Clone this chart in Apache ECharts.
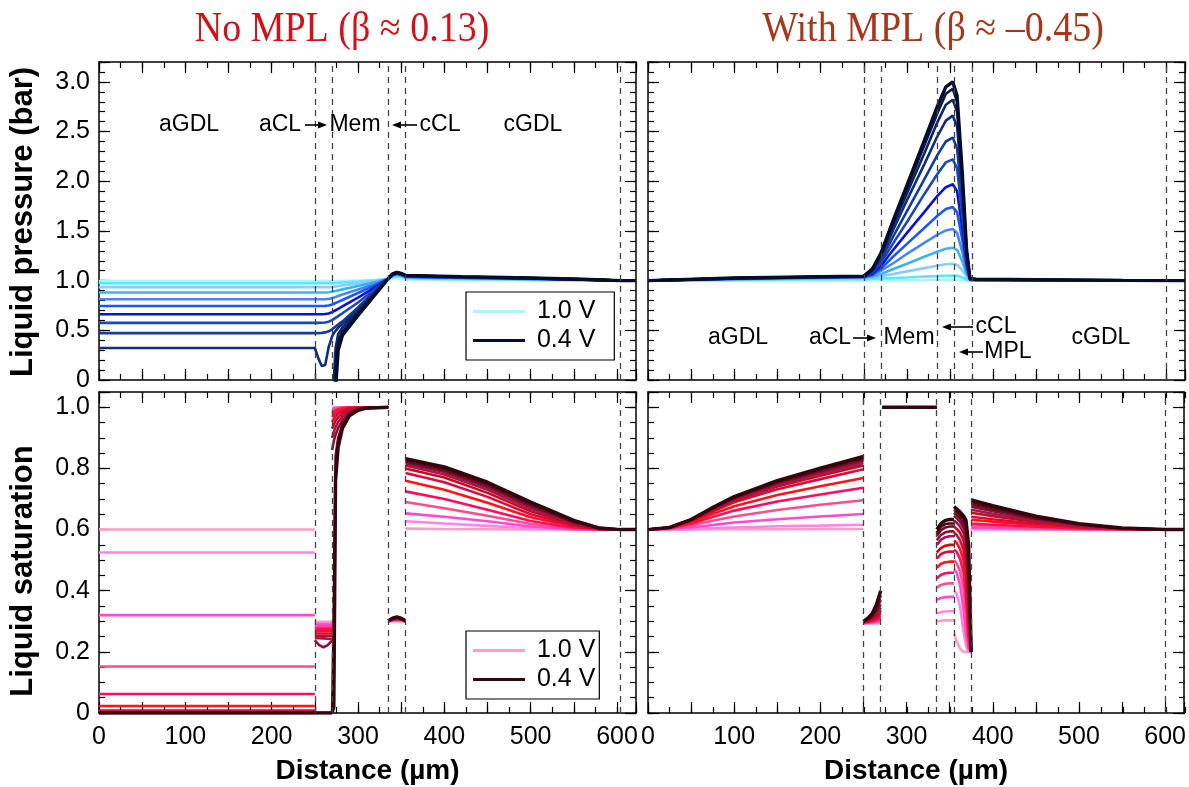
<!DOCTYPE html>
<html><head><meta charset="utf-8">
<script src="https://cdn.jsdelivr.net/npm/echarts@6/dist/echarts.min.js"></script>
<style>html,body{margin:0;padding:0;background:#fff}#c{width:1189px;height:787px}</style>
</head><body><div id="c"></div>
<script>
// ---------- DATA ----------
const voltLabels = ['1.0 V','0.95 V','0.9 V','0.85 V','0.8 V','0.75 V','0.7 V','0.65 V','0.6 V','0.55 V','0.5 V','0.45 V','0.4 V'];
const pressureColors = ['#a8f6ff','#5ce6ff','#8ccdfb','#3cb2f0','#4a86f2','#1a58ff','#0a12d6','#1a48b6','#143c98','#0f2f7c','#0c2462','#0a1a4a','#050c2c'];
const saturationColors = ['#ff9cc2','#ff84e4','#ff48d4','#ff4c8a','#ff0c62','#ff1414','#d80a48','#c41010','#a8145a','#901034','#6c0c22','#4e0814','#36040c'];

const layersNoMPL = [250, 270, 335, 355, 604];
const layersMPL = [250, 270, 335, 355, 375, 600];
const xTickLabels = [0, 100, 200, 300, 400, 500, 600];

// Liquid pressure, no MPL (bar)
const xPressNoMPL = [0,250,254,258,262,266,270,272,274,277,282,300,320,335,340,345,350,355,420,500,560,604,622];
const pressNoMPL = [
 [0.995,0.995,0.995,0.995,0.995,0.995,0.995,0.995,0.995,0.995,0.996,1.0,1.005,1.01,1.02,1.025,1.02,1.012,1.006,1.003,1.001,1.0,1.0],
 [0.973,0.973,0.973,0.973,0.973,0.973,0.974,0.975,0.976,0.978,0.981,0.99,1.003,1.015,1.035,1.045,1.038,1.025,1.015,1.01,1.005,1.0,1.0],
 [0.933,0.933,0.933,0.933,0.933,0.934,0.937,0.939,0.942,0.946,0.952,0.972,0.996,1.017,1.045,1.055,1.047,1.03,1.02,1.012,1.006,1.0,1.0],
 [0.88,0.88,0.88,0.88,0.881,0.883,0.888,0.892,0.896,0.902,0.912,0.945,0.985,1.018,1.05,1.06,1.052,1.035,1.025,1.015,1.008,1.0,1.0],
 [0.812,0.812,0.812,0.812,0.813,0.816,0.824,0.83,0.836,0.845,0.86,0.91,0.97,1.019,1.052,1.065,1.056,1.038,1.028,1.018,1.009,1.0,1.0],
 [0.744,0.744,0.744,0.744,0.746,0.75,0.76,0.767,0.775,0.786,0.805,0.875,0.955,1.02,1.055,1.07,1.06,1.04,1.03,1.02,1.01,1.0,1.0],
 [0.661,0.661,0.661,0.662,0.664,0.67,0.683,0.692,0.702,0.716,0.74,0.83,0.935,1.02,1.058,1.072,1.062,1.042,1.032,1.021,1.011,1.0,1.0],
 [0.575,0.575,0.575,0.576,0.579,0.587,0.603,0.614,0.626,0.643,0.672,0.78,0.915,1.02,1.06,1.075,1.065,1.045,1.034,1.022,1.012,1.0,1.0],
 [0.472,0.472,0.472,0.474,0.479,0.49,0.51,0.523,0.537,0.557,0.59,0.73,0.9,1.02,1.062,1.077,1.067,1.047,1.035,1.023,1.012,1.0,1.0],
 [0.322,0.322,0.22,0.14,0.15,0.33,0.44,0.47,0.495,0.525,0.565,0.705,0.885,1.02,1.065,1.08,1.07,1.05,1.037,1.024,1.013,1.0,1.0],
 [-0.3,-0.3,-0.3,-0.3,-0.3,-0.3,-0.3,0.0,0.32,0.46,0.53,0.69,0.88,1.02,1.066,1.081,1.071,1.051,1.038,1.025,1.013,1.0,1.0],
 [-0.5,-0.5,-0.5,-0.5,-0.5,-0.5,-0.5,-0.3,0.12,0.39,0.49,0.67,0.87,1.02,1.067,1.082,1.072,1.052,1.039,1.025,1.013,1.0,1.0],
 [-0.7,-0.7,-0.7,-0.7,-0.7,-0.7,-0.7,-0.6,-0.1,0.3,0.45,0.65,0.86,1.02,1.068,1.083,1.073,1.053,1.04,1.026,1.014,1.0,1.0]
];

// Liquid pressure, with MPL (bar)
const xPressMPL = [0,100,200,250,260,270,285,300,320,335,345,353,358,364,369,373,380,450,550,622];
const pressMPL = [
 [1.0,1.0,1.0,1.0,1.0,1.001,1.003,1.004,1.006,1.008,1.01,1.01,1.009,1.006,1.002,1.0,1.0,1.0,1.0,1.0],
 [1.0,1.008,1.014,1.017,1.019,1.022,1.027,1.032,1.04,1.045,1.049,1.05,1.048,1.033,1.012,1.0,1.0,1.0,1.0,1.0],
 [1.0,1.012,1.022,1.027,1.033,1.045,1.068,1.093,1.126,1.15,1.164,1.17,1.16,1.105,1.042,1.005,1.002,1.001,1.0,1.0],
 [1.0,1.015,1.026,1.031,1.04,1.066,1.12,1.17,1.24,1.29,1.32,1.33,1.31,1.195,1.07,1.006,1.004,1.002,1.0,1.0],
 [1.0,1.018,1.03,1.035,1.052,1.1,1.18,1.27,1.38,1.46,1.505,1.52,1.48,1.29,1.1,1.008,1.006,1.003,1.0,1.0],
 [1.0,1.02,1.032,1.037,1.06,1.12,1.25,1.37,1.53,1.65,1.72,1.74,1.69,1.41,1.14,1.01,1.007,1.004,1.001,1.0],
 [1.0,1.021,1.034,1.039,1.07,1.15,1.32,1.48,1.69,1.85,1.94,1.97,1.9,1.53,1.17,1.012,1.008,1.005,1.001,1.0],
 [1.0,1.022,1.035,1.04,1.08,1.18,1.39,1.59,1.87,2.07,2.19,2.22,2.13,1.67,1.21,1.015,1.01,1.006,1.002,1.0],
 [1.0,1.023,1.036,1.041,1.09,1.21,1.46,1.7,2.02,2.26,2.4,2.44,2.33,1.79,1.24,1.017,1.011,1.007,1.002,1.0],
 [1.0,1.024,1.037,1.042,1.1,1.24,1.53,1.81,2.17,2.45,2.61,2.66,2.55,1.92,1.27,1.018,1.012,1.008,1.002,1.0],
 [1.0,1.025,1.038,1.043,1.11,1.26,1.58,1.88,2.28,2.59,2.77,2.82,2.7,2.0,1.29,1.019,1.013,1.008,1.003,1.0],
 [1.0,1.026,1.039,1.044,1.11,1.27,1.61,1.93,2.36,2.68,2.88,2.93,2.8,2.06,1.3,1.02,1.014,1.009,1.003,1.0],
 [1.0,1.027,1.04,1.045,1.12,1.28,1.63,1.96,2.41,2.75,2.95,3.0,2.86,2.09,1.31,1.02,1.015,1.01,1.003,1.0]
];

// Liquid saturation, no MPL — per layer
const xSatNoMPL_aGDL = [0, 250];
const satNoMPL_aGDL = [0.6,0.525,0.32,0.152,0.062,0.023,0.008,0.003,0,0,0,0,0];
const xSatNoMPL_aCL = [250,255,260,265,270];
const satNoMPL_aCL = [
 [0.298,0.298,0.298,0.298,0.298],[0.294,0.294,0.294,0.294,0.294],[0.289,0.289,0.289,0.289,0.289],
 [0.283,0.283,0.283,0.283,0.283],[0.276,0.276,0.276,0.276,0.276],[0.268,0.268,0.268,0.268,0.268],
 [0.26,0.26,0.26,0.26,0.26],[0.252,0.252,0.252,0.252,0.252],[0.245,0.245,0.244,0.243,0.243],
 [0.238,0.222,0.215,0.222,0.238],[0,0,0,0,0],[0,0,0,0,0],[0,0,0,0,0]
];
const xSatNoMPL_Mem = [270,272,274,277,282,290,300,310,335];
const satNoMPL_Mem = [
 [1.0,1.0,1.0,1.0,1.0,1.0,1.0,1.0,1.0],
 [0.997,0.998,0.999,1.0,1.0,1.0,1.0,1.0,1.0],
 [0.993,0.995,0.997,0.999,1.0,1.0,1.0,1.0,1.0],
 [0.988,0.991,0.994,0.997,0.999,1.0,1.0,1.0,1.0],
 [0.98,0.985,0.989,0.993,0.997,1.0,1.0,1.0,1.0],
 [0.968,0.975,0.981,0.987,0.993,0.998,1.0,1.0,1.0],
 [0.952,0.962,0.97,0.979,0.988,0.996,0.999,1.0,1.0],
 [0.93,0.944,0.955,0.967,0.98,0.992,0.998,1.0,1.0],
 [0.9,0.92,0.935,0.952,0.97,0.988,0.997,0.999,1.0],
 [0.86,0.89,0.91,0.932,0.958,0.982,0.995,0.999,1.0],
 [0.0,0.35,0.84,0.9,0.945,0.978,0.993,0.998,1.0],
 [0.0,0.12,0.8,0.885,0.94,0.975,0.992,0.998,1.0],
 [0.0,0.02,0.76,0.87,0.932,0.972,0.99,0.997,1.0]
];
const xSatNoMPL_cCL = [335,340,345,350,355];
const satNoMPL_cCL = [
 [0.298,0.3,0.301,0.3,0.298],[0.299,0.302,0.303,0.302,0.299],[0.3,0.303,0.305,0.303,0.3],
 [0.3,0.304,0.306,0.304,0.3],[0.3,0.305,0.307,0.305,0.3],[0.301,0.306,0.308,0.306,0.301],
 [0.301,0.307,0.309,0.307,0.301],[0.301,0.307,0.31,0.307,0.301],[0.302,0.308,0.311,0.308,0.302],
 [0.302,0.308,0.312,0.308,0.302],[0.302,0.309,0.313,0.309,0.302],[0.302,0.309,0.313,0.309,0.302],
 [0.302,0.31,0.314,0.31,0.302]
];
const xSatNoMPL_cGDL = [355,400,450,500,550,580,604,622];
const satNoMPL_cGDL = [
 [0.603,0.602,0.601,0.6,0.6,0.6,0.6,0.6],
 [0.627,0.62,0.612,0.604,0.6,0.6,0.6,0.6],
 [0.653,0.642,0.627,0.61,0.601,0.6,0.6,0.6],
 [0.69,0.67,0.645,0.618,0.603,0.6,0.6,0.6],
 [0.725,0.7,0.665,0.628,0.606,0.6,0.6,0.6],
 [0.76,0.73,0.688,0.64,0.61,0.601,0.6,0.6],
 [0.785,0.755,0.707,0.65,0.613,0.601,0.6,0.6],
 [0.8,0.77,0.72,0.66,0.617,0.602,0.6,0.6],
 [0.81,0.78,0.73,0.668,0.62,0.602,0.6,0.6],
 [0.817,0.788,0.738,0.675,0.622,0.603,0.6,0.6],
 [0.823,0.795,0.745,0.68,0.625,0.604,0.6,0.6],
 [0.828,0.8,0.75,0.685,0.627,0.604,0.6,0.6],
 [0.832,0.805,0.755,0.69,0.63,0.605,0.6,0.6]
];

// Liquid saturation, with MPL — per layer
const xSatMPL_aGDL = [0,25,50,75,100,150,200,250];
const satMPL_aGDL = [
 [0.6,0.6,0.6,0.601,0.601,0.601,0.602,0.602],
 [0.6,0.6,0.602,0.605,0.607,0.611,0.613,0.616],
 [0.6,0.602,0.607,0.615,0.623,0.634,0.643,0.651],
 [0.6,0.603,0.613,0.629,0.643,0.664,0.681,0.696],
 [0.6,0.604,0.619,0.641,0.662,0.692,0.715,0.737],
 [0.6,0.605,0.624,0.651,0.676,0.713,0.742,0.769],
 [0.6,0.606,0.628,0.659,0.689,0.732,0.765,0.797],
 [0.6,0.606,0.629,0.663,0.695,0.741,0.776,0.81],
 [0.6,0.607,0.631,0.665,0.698,0.746,0.783,0.818],
 [0.6,0.607,0.632,0.668,0.701,0.751,0.789,0.825],
 [0.6,0.607,0.632,0.669,0.704,0.754,0.793,0.83],
 [0.6,0.607,0.633,0.671,0.706,0.757,0.797,0.835],
 [0.6,0.607,0.633,0.672,0.708,0.76,0.801,0.839]
];
const xSatMPL_aCL = [250,255,260,265,270];
const satMPL_aCL = [
 [0.293,0.293,0.293,0.294,0.295],[0.294,0.294,0.295,0.296,0.298],[0.294,0.295,0.296,0.298,0.302],
 [0.295,0.296,0.298,0.301,0.306],[0.296,0.298,0.3,0.304,0.312],[0.297,0.299,0.302,0.308,0.318],
 [0.298,0.3,0.305,0.312,0.325],[0.298,0.302,0.307,0.316,0.335],[0.3,0.304,0.31,0.322,0.345],
 [0.3,0.305,0.313,0.33,0.355],[0.3,0.306,0.317,0.337,0.37],[0.3,0.308,0.32,0.345,0.385],
 [0.3,0.31,0.325,0.355,0.4]
];
const xSatMPL_Mem = [272, 335];
const satMPL_Mem = [1.0,1.0,1.0,1.0,1.0,1.0,1.0,1.0,1.0,1.0,1.0,1.0,1.0];
const xSatMPL_cCL = [335,340,345,350,355];
const satMPL_cCL = [
 [0.3,0.302,0.303,0.303,0.303],[0.325,0.33,0.332,0.333,0.333],[0.37,0.376,0.379,0.38,0.38],
 [0.41,0.419,0.423,0.424,0.424],[0.44,0.452,0.457,0.459,0.459],[0.475,0.488,0.493,0.495,0.495],
 [0.505,0.52,0.526,0.528,0.528],[0.525,0.54,0.547,0.55,0.55],[0.55,0.567,0.575,0.578,0.578],
 [0.565,0.583,0.591,0.594,0.594],[0.58,0.598,0.607,0.61,0.61],[0.59,0.61,0.618,0.62,0.62],
 [0.6,0.62,0.63,0.633,0.633]
];
const xSatMPL_MPL = [355,358,362,366,369,372,375];
const satMPL_MPL = [
 [0.26,0.235,0.21,0.2,0.2,0.2,0.2],
 [0.4,0.39,0.35,0.27,0.22,0.2,0.2],
 [0.47,0.46,0.42,0.34,0.26,0.21,0.2],
 [0.5,0.49,0.465,0.41,0.32,0.22,0.2],
 [0.535,0.527,0.505,0.46,0.38,0.24,0.2],
 [0.565,0.557,0.537,0.5,0.43,0.26,0.2],
 [0.59,0.583,0.565,0.535,0.48,0.29,0.2],
 [0.61,0.603,0.59,0.565,0.52,0.32,0.2],
 [0.63,0.623,0.61,0.59,0.555,0.36,0.2],
 [0.645,0.638,0.625,0.607,0.58,0.4,0.2],
 [0.655,0.648,0.638,0.62,0.6,0.45,0.2],
 [0.665,0.658,0.648,0.635,0.615,0.5,0.2],
 [0.675,0.668,0.658,0.645,0.63,0.55,0.2]
];
const xSatMPL_cGDL = [375,400,450,500,550,600,622];
const satMPL_cGDL = [
 [0.6,0.6,0.6,0.6,0.6,0.6,0.6],
 [0.602,0.602,0.601,0.6,0.6,0.6,0.6],
 [0.606,0.605,0.603,0.601,0.6,0.6,0.6],
 [0.612,0.61,0.605,0.602,0.6,0.6,0.6],
 [0.62,0.616,0.609,0.604,0.601,0.6,0.6],
 [0.632,0.626,0.614,0.606,0.602,0.6,0.6],
 [0.642,0.634,0.619,0.608,0.602,0.6,0.6],
 [0.655,0.644,0.625,0.611,0.603,0.6,0.6],
 [0.665,0.652,0.629,0.613,0.603,0.6,0.6],
 [0.675,0.66,0.634,0.615,0.604,0.6,0.6],
 [0.683,0.666,0.637,0.617,0.604,0.6,0.6],
 [0.69,0.672,0.64,0.618,0.604,0.6,0.6],
 [0.697,0.678,0.644,0.619,0.605,0.6,0.6]
];

// ---------- BUILD ----------
const SANS = '"Liberation Sans", Arial, sans-serif';
const rects = [
  {left:99, top:62, width:537, height:318},
  {left:648, top:62, width:537, height:318},
  {left:99, top:392, width:537, height:321},
  {left:648, top:392, width:537, height:321}
];
const grids = [];
const xAxes = [], yAxes = [];
for (let gi = 0; gi < 8; gi++) {
  const base = gi % 4, minor = gi >= 4, isTop = base < 2, isLeft = base % 2 === 0;
  grids.push(Object.assign({containLabel:false}, rects[base]));
  const tickLen = minor ? 6 : 11;
  const line = {show: !minor, onZero:false, lineStyle:{color:'#000', width:1.5}};
  const tick = {show:true, inside:true, length:tickLen, lineStyle:{color:'#000', width:1.2}};
  const showXLab = !minor && !isTop;
  const xBase = {gridIndex:gi, type:'value', min:0, max:622, interval: minor ? 25 : 50,
    axisLine: line, axisTick: tick, splitLine:{show:false}};
  xAxes.push(Object.assign({}, xBase, {position:'bottom',
    axisLabel:{show: showXLab, margin:12, fontSize:25, fontFamily:SANS, color:'#000',
      formatter: v => xTickLabels.indexOf(v) >= 0 ? String(v) : ''},
    name: showXLab ? 'Distance (µm)' : '', nameLocation:'middle', nameGap:44,
    nameTextStyle:{fontSize:28, fontWeight:'bold', fontFamily:SANS, color:'#000'}}));
  xAxes.push(Object.assign({}, xBase, {position:'top', axisLabel:{show:false}}));
  const ymax = isTop ? 3.2 : 1.05;
  const yint = isTop ? (minor ? 0.1 : 0.5) : (minor ? 0.05 : 0.2);
  const showYLab = !minor && isLeft;
  const yBase = {gridIndex:gi, type:'value', min:0, max:ymax, interval:yint,
    axisLine: line, axisTick: tick, splitLine:{show:false}};
  yAxes.push(Object.assign({}, yBase, {position:'left',
    axisLabel:{show: showYLab, margin:9, fontSize:25, fontFamily:SANS, color:'#000',
      formatter: v => {
        if (v > (isTop ? 3.0001 : 1.0001)) return '';
        return v === 0 ? '0' : v.toFixed(1);
      }}}));
  yAxes.push(Object.assign({}, yBase, {position:'right', axisLabel:{show:false}}));
}

function contData(xs, ys) { return xs.map((x, i) => [x, ys[i]]); }
function segData(segs) {
  const out = [];
  segs.forEach((s, k) => {
    if (k > 0) out.push([s[0][0], '-']);
    s[0].forEach((x, i) => out.push([x, s[1][i]]));
  });
  return out;
}
function dashMark(layers) {
  return {silent:true, symbol:['none','none'], label:{show:false}, animation:false,
    lineStyle:{type:[6,5], color:'#444', width:1.3}, emphasis:{disabled:true},
    data: layers.map(v => ({xAxis:v}))};
}
const series = [];
function addPanel(gi, prefix, colors, dataFn, layers) {
  for (let c = 0; c < 13; c++) {
    const s = {
      type:'line', name: prefix + voltLabels[c], xAxisIndex: gi*2, yAxisIndex: gi*2,
      data: dataFn(c), showSymbol:false, symbol:'none', connectNulls:false, clip:true,
      animation:false, silent:true, z: 3,
      lineStyle:{color: colors[c], width: c === 12 ? 3.4 : 2.6},
      itemStyle:{color: colors[c]}
    };
    if (c === 0) s.markLine = dashMark(layers);
    series.push(s);
  }
}
addPanel(0, 'P', pressureColors, c => contData(xPressNoMPL, pressNoMPL[c]), layersNoMPL);
addPanel(1, 'Q', pressureColors, c => contData(xPressMPL, pressMPL[c]), layersMPL);
addPanel(2, 'S', saturationColors, c => segData([
  [xSatNoMPL_aGDL, [satNoMPL_aGDL[c], satNoMPL_aGDL[c]]],
  [xSatNoMPL_aCL, satNoMPL_aCL[c]],
  [xSatNoMPL_Mem, satNoMPL_Mem[c]],
  [xSatNoMPL_cCL, satNoMPL_cCL[c]],
  [xSatNoMPL_cGDL, satNoMPL_cGDL[c]]
]), layersNoMPL);
addPanel(3, 'T', saturationColors, c => segData([
  [xSatMPL_aGDL, satMPL_aGDL[c]],
  [xSatMPL_aCL, satMPL_aCL[c]],
  [xSatMPL_Mem, [satMPL_Mem[c], satMPL_Mem[c]]],
  [xSatMPL_cCL, satMPL_cCL[c]],
  [xSatMPL_MPL, satMPL_MPL[c]],
  [xSatMPL_cGDL, satMPL_cGDL[c]]
]), layersMPL);

function legendCfg(names, top, padRight) {
  return {data: names, orient:'vertical', left:466, top: top, padding:[6, padRight, 6, 7],
    itemGap:2, itemWidth:52, itemHeight:3, icon:'rect', borderColor:'#000', borderWidth:1.2,
    selectedMode:false, backgroundColor:'#fff',
    textStyle:{fontSize:25, fontFamily:SANS, color:'#000', lineHeight:27},
    formatter: n => ' ' + n.slice(1)};
}

function txt(x, y, t, size) {
  return {type:'text', x:x, y:y, silent:true, z:50,
    style:{text:t, fill:'#000', font: size + 'px ' + SANS, align:'center', verticalAlign:'middle'}};
}
function vname(x, y, t) {
  return {type:'text', x:x, y:y, rotation: Math.PI/2, silent:true, z:50,
    style:{text:t, fill:'#000', font:'bold 31px ' + SANS, align:'center', verticalAlign:'middle'}};
}
function arrow(x1, x2, y) {
  const dir = x2 > x1 ? 1 : -1;
  return [
    {type:'line', silent:true, z:50, shape:{x1:x1, y1:y, x2:x2 - dir*6, y2:y}, style:{stroke:'#000', lineWidth:1.6}},
    {type:'polygon', silent:true, z:50, shape:{points:[[x2, y],[x2 - dir*9, y-3.5],[x2 - dir*9, y+3.5]]}, style:{fill:'#000'}}
  ];
}
const graphics = [
  {type:'text', x:342, y:30, silent:true, scaleY:1.1, style:{text:'No MPL (β ≈ 0.13)', fill:'#d0121b',
    font:'38px "Liberation Serif", "Times New Roman", serif', align:'center', verticalAlign:'middle'}},
  {type:'text', x:933, y:30, silent:true, scaleY:1.1, style:{text:'With MPL (β ≈ –0.45)', fill:'#a5381a',
    font:'38px "Liberation Serif", "Times New Roman", serif', align:'center', verticalAlign:'middle'}},
  vname(23, 222, 'Liquid pressure (bar)'),
  vname(23, 571, 'Liquid saturation'),
  txt(189, 125, 'aGDL', 23), txt(280, 125, 'aCL', 23), txt(355, 125, 'Mem', 23),
  txt(440, 125, 'cCL', 23), txt(533, 125, 'cGDL', 23),
  ...arrow(305, 327, 125), ...arrow(417, 392, 125),
  txt(738, 338, 'aGDL', 23), txt(830, 338, 'aCL', 23), txt(909, 338, 'Mem', 23),
  txt(996, 327, 'cCL', 23), txt(1008, 352, 'MPL', 23), txt(1101, 338, 'cGDL', 23),
  ...arrow(853, 876, 338), ...arrow(973, 942, 327), ...arrow(983, 959, 352)
];

const chart = echarts.init(document.getElementById('c'), null, {renderer:'canvas'});
chart.setOption({
  animation:false,
  backgroundColor:'#fff',
  grid: grids, xAxis: xAxes, yAxis: yAxes, series: series,
  legend: [legendCfg(['P1.0 V','P0.4 V'], 292, 19), legendCfg(['S1.0 V','S0.4 V'], 631, 4)],
  graphic: graphics
});
</script></body></html>
